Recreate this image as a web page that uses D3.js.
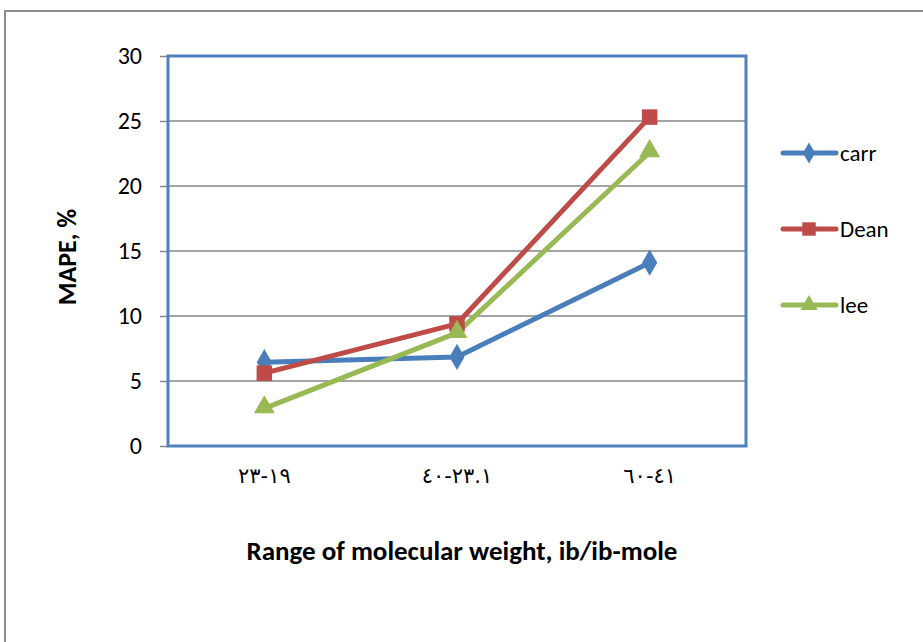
<!DOCTYPE html>
<html><head><meta charset="utf-8">
<script src="https://cdn.jsdelivr.net/npm/d3@7/dist/d3.min.js"></script>
<style>body{margin:0;background:#fff}svg{display:block}</style>
</head><body>
<svg id="c" width="923" height="642"></svg>
<script>
const categories = ["٢٣-١٩", "٤٠-٢٣.١", "٦٠-٤١"];
const seriesNames = ["carr", "Dean", "lee"];
const carr = [6.45, 6.85, 14.1];
const dean = [5.6, 9.4, 25.3];
const lee = [2.9, 8.7, 22.6];
const yTicks = [0, 5, 10, 15, 20, 25, 30];
const colors = ["#4A7EBB", "#BE4B48", "#98B954"];
const shapes = [d3.symbolDiamond, d3.symbolSquare, d3.symbolTriangle];
const series = [carr, dean, lee];

const svg = d3.select("#c");
const font = "Carlito, Calibri, Lato, sans-serif";
// outer frame
svg.append("rect").attr("x",5).attr("y",11).attr("width",930).attr("height",640)
  .attr("fill","none").attr("stroke","#8c8c8c").attr("stroke-width",2);

const L=168, R=746, T=56, B=446;
const x = d3.scaleBand().domain(categories).range([L,R]);
const y = d3.scaleLinear().domain([0,30]).range([B,T]);

// gridlines
svg.append("g").selectAll("line").data(yTicks.filter(d=>d>0)).join("line")
  .attr("x1",L).attr("x2",R).attr("y1",d=>y(d)).attr("y2",d=>y(d))
  .attr("stroke","#868686").attr("stroke-width",1.5);

// y axis
const ya = svg.append("g").attr("transform",`translate(${L},0)`)
  .call(d3.axisLeft(y).tickValues(yTicks).tickSize(8).tickPadding(18));
ya.select(".domain").remove();
ya.selectAll(".tick line").attr("stroke","#868686").attr("stroke-width",1.5);
ya.selectAll("text").attr("font-family",font).attr("font-size",24).attr("fill","#000");

// x axis labels
const xa = svg.append("g").attr("transform",`translate(0,${B})`)
  .call(d3.axisBottom(x).tickSize(0).tickPadding(22));
xa.select(".domain").remove();
xa.selectAll("text").attr("font-family","'DejaVu Sans', sans-serif").attr("font-size",21)
  .attr("fill","#000").attr("direction","ltr").style("unicode-bidi","bidi-override");

// plot border
svg.append("rect").attr("x",L).attr("y",T).attr("width",R-L).attr("height",B-T)
  .attr("fill","none").attr("stroke","#4F81BD").attr("stroke-width",3);

// lines
const line = d3.line().x((d,i)=>x(categories[i])+x.bandwidth()/2).y(d=>y(d));
series.forEach((s,k)=>{
  svg.append("path").datum(s).attr("d",line).attr("fill","none")
    .attr("stroke",colors[k]).attr("stroke-width",5).attr("stroke-linejoin","round");
});
series.forEach((s,k)=>{
  const sym = d3.symbol().type(shapes[k]).size(k===0?200:(k===1?240:190));
  svg.append("g").selectAll("path").data(s).join("path")
    .attr("d",sym)
    .attr("transform",(d,i)=>`translate(${x(categories[i])+x.bandwidth()/2},${y(d)+(k===2?-1:0)})`)
    .attr("fill",colors[k]);
});

// legend
const ly = [153, 229, 305];
seriesNames.forEach((n,k)=>{
  const g = svg.append("g");
  g.append("line").attr("x1",783).attr("x2",836).attr("y1",ly[k]).attr("y2",ly[k])
    .attr("stroke",colors[k]).attr("stroke-width",5).attr("stroke-linecap","round");
  g.append("path").attr("d",d3.symbol().type(shapes[k]).size(k===1?180:130)())
    .attr("transform",`translate(809,${ly[k]})`).attr("fill",colors[k]);
  g.append("text").attr("x",840).attr("y",ly[k]).attr("dy","0.33em")
    .attr("font-family",font).attr("font-size",23).text(n);
});

// axis titles
svg.append("text").attr("transform","translate(76,257) rotate(-90)")
  .attr("text-anchor","middle").attr("font-family",font).attr("font-weight","bold")
  .attr("font-size",26).text("MAPE, %");
svg.append("text").attr("x",462).attr("y",560).attr("text-anchor","middle")
  .attr("font-family",font).attr("font-weight","bold").attr("font-size",27)
  .text("Range of molecular weight, ib/ib-mole");
</script>
</body></html>
